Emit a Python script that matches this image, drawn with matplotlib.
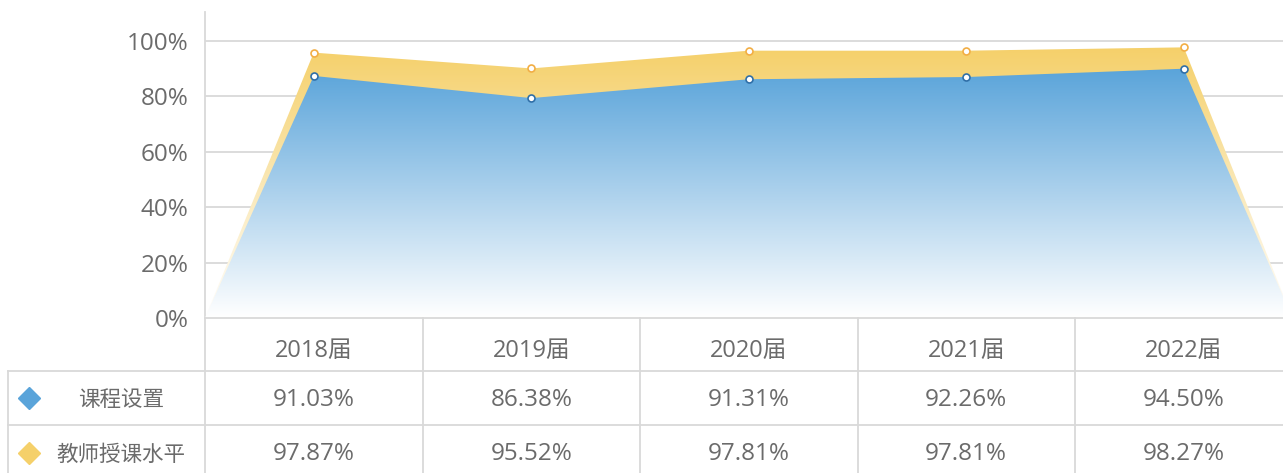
import numpy as np
import matplotlib.pyplot as plt
from matplotlib.colors import LinearSegmentedColormap
from matplotlib.patches import Polygon

plt.rcParams['font.family'] = ['Open Sans', 'Noto Sans CJK SC', 'DejaVu Sans']

years = ["2018届", "2019届", "2020届", "2021届", "2022届"]
series_names = ["课程设置", "教师授课水平"]
series_colors = ["#5AA4DA", "#F5D06A"]
marker_edges = ["#2F6FA8", "#F2AE45"]

# values shown in the table under the chart
course_pct = [91.03, 86.38, 91.31, 92.26, 94.50]
teaching_pct = [97.87, 95.52, 97.81, 97.81, 98.27]

# heights of the area points as drawn in the chart
course_drawn = [87.3, 79.3, 86.1, 86.9, 89.9]
teaching_drawn = [95.7, 90.0, 96.4, 96.4, 97.6]

y_ticks = [0, 20, 40, 60, 80, 100]

W, H = 1283, 473
TEXT = "#6B6B6B"
GRID = "#D9D9D9"
COL_W = 217.5  # pixel width of one category column

fig = plt.figure(figsize=(W / 100, H / 100), dpi=100)

n = len(years)
# main chart: 0% at y=318px, top of axis at 12px; runs a little past the right edge
ax = fig.add_axes([205 / W, (H - 318) / H, n * COL_W / W, (318 - 12) / H])


def gradient_area(ax, x, y, color, z):
    verts = [(x[0], 0)] + list(zip(x, y)) + [(x[-1], 0)]
    patch = Polygon(verts, closed=True, facecolor="none", edgecolor="none")
    ax.add_patch(patch)
    cmap = LinearSegmentedColormap.from_list("g", ["#FFFFFF", color])
    grad = np.linspace(0, 1, 256).reshape(-1, 1)
    im = ax.imshow(grad, cmap=cmap, aspect="auto", origin="lower",
                   extent=[x[0], x[-1], 0, max(y)], zorder=z)
    im.set_clip_path(patch)


xs = np.arange(n)
x_area = np.concatenate([[-0.5], xs, [n - 0.5]])

for vals, color, edge, z in [(teaching_drawn, series_colors[1], marker_edges[1], 2),
                             (course_drawn, series_colors[0], marker_edges[0], 3)]:
    y_area = np.concatenate([[0], vals, [0]])
    gradient_area(ax, x_area, y_area, color, z)
    ax.plot(xs, vals, linestyle="none", marker="o", markersize=5,
            markerfacecolor="white", markeredgecolor=edge, markeredgewidth=1.2,
            zorder=5)

ax.set_xlim(-0.5, n - 0.5)
ax.set_ylim(0, 110.35)
ax.set_yticks(y_ticks)
ax.set_yticklabels([f"{t}%" for t in y_ticks], fontsize=17.5, color=TEXT)
ax.tick_params(axis="y", length=0, pad=12)
ax.set_xticks([])
ax.grid(axis="y", color=GRID, linewidth=1.3, zorder=0)
ax.set_axisbelow(True)
for side in ["top", "right", "bottom"]:
    ax.spines[side].set_visible(False)
ax.spines["left"].set_color(GRID)
ax.spines["left"].set_linewidth(1.3)

# table underneath, sharing the category x positions
tb = fig.add_axes([205 / W, 0, n * COL_W / W, (H - 318) / H])
tb.set_xlim(-0.5, n - 0.5)
tb.set_ylim(H - 318, 0)
tb.axis("off")


def px(xp):
    return -0.5 + (xp - 205) / COL_W


left = px(8)
line_kw = dict(color=GRID, linewidth=1.3, clip_on=False)
tb.plot([-0.5, n - 0.5], [0, 0], **line_kw)
for yl in [53, 107]:
    tb.plot([left, n - 0.5], [yl, yl], **line_kw)
tb.plot([left, left], [53, H - 318], **line_kw)
for xb in np.arange(-0.5, n - 0.5, 1.0):
    tb.plot([xb, xb], [0, H - 318], **line_kw)

for i, yr in enumerate(years):
    tb.text(i, 33, yr, ha="center", va="center", fontsize=17, color=TEXT)
    tb.text(i, 82, f"{course_pct[i]:.2f}%", ha="center", va="center",
            fontsize=17.5, color=TEXT)
    tb.text(i, 136, f"{teaching_pct[i]:.2f}%", ha="center", va="center",
            fontsize=17.5, color=TEXT)

for name, color, yr in zip(series_names, series_colors, [80, 135]):
    tb.plot([px(28.5)], [yr], marker="D", markersize=11.5, color=color,
            linestyle="none", clip_on=False)
    tb.text(px(121), yr + 2, name, ha="center", va="center", fontsize=15.5,
            color=TEXT, clip_on=False)

fig.savefig("out.png", dpi=100)
